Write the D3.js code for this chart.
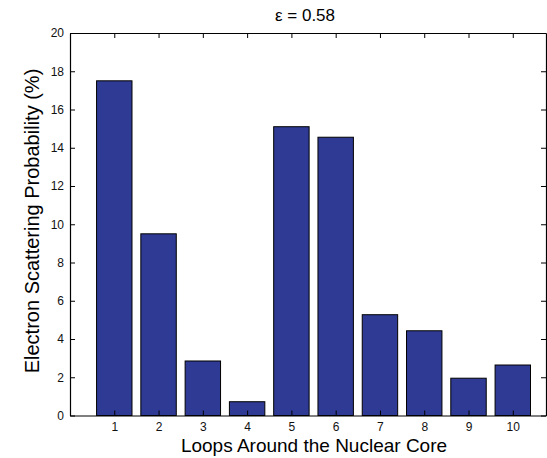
<!DOCTYPE html>
<html>
<head>
<meta charset="utf-8">
<script src="https://cdn.jsdelivr.net/npm/d3@7"></script>
<style>
body { margin: 0; background: #fff; }
svg { font-family: "Liberation Sans", Arial, sans-serif; }
</style>
</head>
<body>
<div id="graph"></div>
<script>
var loops = [1, 2, 3, 4, 5, 6, 7, 8, 9, 10]
var probability = [17.5, 9.5, 2.85, 0.72, 15.1, 14.55, 5.27, 4.43, 1.95, 2.64]
var yTicks = [0, 2, 4, 6, 8, 10, 12, 14, 16, 18, 20]

var w = 547
var h = 458
var plotLeft = 70
var plotRight = 546
var plotTop = 33
var plotBottom = 415.5
var barWidth = 0.8
var barColor = '#2f3a94'

var svg = d3.select('#graph')
	.append('svg')
	.attr('width', w)
	.attr('height', h)

// the right side of the original is cropped, so the x range stops short of 11
var xScale = d3.scaleLinear()
	.domain([0, 10.75])
	.range([plotLeft, plotRight])

var yScale = d3.scaleLinear()
	.domain([0, 20])
	.range([plotBottom, plotTop])

// bars
svg.selectAll('rect.bar')
	.data(probability)
	.enter()
	.append('rect')
	.attr('class', 'bar')
	.attr('x', (d, i) => xScale(loops[i] - barWidth / 2))
	.attr('width', (d, i) => xScale(loops[i] + barWidth / 2) - xScale(loops[i] - barWidth / 2))
	.attr('y', (d) => yScale(d))
	.attr('height', (d) => yScale(0) - yScale(d))
	.attr('fill', barColor)
	.attr('stroke', '#000')
	.attr('stroke-width', 1)

// axes, ticks inside like matlab
var bottomAxis = d3.axisBottom(xScale).tickValues(loops).tickSizeInner(-5).tickSizeOuter(0).tickPadding(7)
var topAxis = d3.axisTop(xScale).tickValues(loops).tickSizeInner(-5).tickSizeOuter(0).tickFormat('')
var leftAxis = d3.axisLeft(yScale).tickValues(yTicks).tickSizeInner(-5).tickSizeOuter(0).tickPadding(6)
var rightAxis = d3.axisRight(yScale).tickValues(yTicks).tickSizeInner(-5).tickSizeOuter(0).tickFormat('')

svg.append('g').attr('transform', 'translate(0,' + plotBottom + ')').call(bottomAxis)
svg.append('g').attr('transform', 'translate(0,' + plotTop + ')').call(topAxis)
svg.append('g').attr('transform', 'translate(' + plotLeft + ',0)').call(leftAxis)
svg.append('g').attr('transform', 'translate(' + plotRight + ',0)').call(rightAxis)

svg.selectAll('.domain').attr('stroke', '#000').attr('stroke-width', 1.2)
svg.selectAll('.tick line').attr('stroke', '#000')
svg.selectAll('.tick text').attr('font-size', 12).attr('fill', '#111')
	.attr('font-family', '"Liberation Sans", Arial, sans-serif')

// title and labels
svg.append('text')
	.attr('x', 305)
	.attr('y', 21)
	.attr('text-anchor', 'middle')
	.attr('font-size', 17)
	.text('\u03b5 = 0.58')

svg.append('text')
	.attr('x', 314)
	.attr('y', 452)
	.attr('text-anchor', 'middle')
	.attr('font-size', 19)
	.text('Loops Around the Nuclear Core')

svg.append('text')
	.attr('transform', 'translate(39,221) rotate(-90)')
	.attr('text-anchor', 'middle')
	.attr('font-size', 20)
	.text('Electron Scattering Probability (%)')
</script>
</body>
</html>
